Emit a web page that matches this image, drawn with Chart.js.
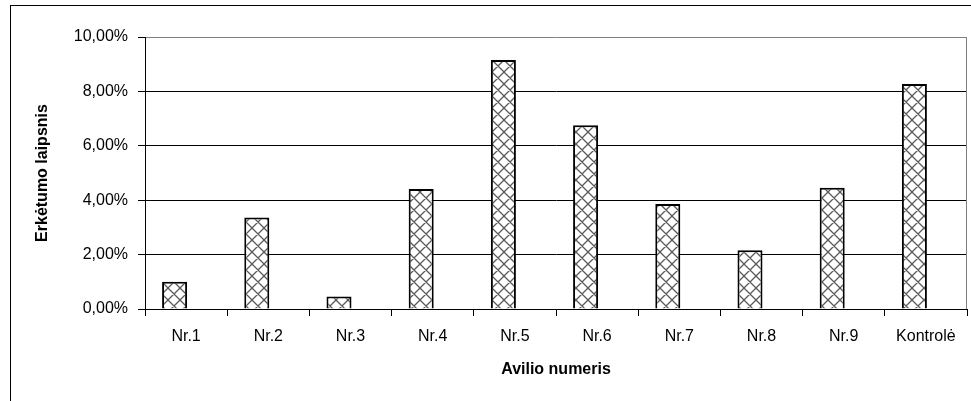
<!DOCTYPE html>
<html>
<head>
<meta charset="utf-8">
<script src="https://cdn.jsdelivr.net/npm/chart.js@4/dist/chart.umd.min.js"></script>
<style>
  html, body { margin: 0; padding: 0; background: #ffffff; }
  #wrap { width: 971px; height: 401px; position: relative; }
</style>
</head>
<body>
<div id="wrap"><canvas id="c" width="971" height="401"></canvas></div>
<script>
const categories = ['Nr.1', 'Nr.2', 'Nr.3', 'Nr.4', 'Nr.5', 'Nr.6', 'Nr.7', 'Nr.8', 'Nr.9', 'Kontrolė'];
const values = [1.00, 3.36, 0.46, 4.41, 9.15, 6.76, 3.86, 2.16, 4.46, 8.27];
// second (empty) series slot of the original chart: no values
const emptySeries = [null, null, null, null, null, null, null, null, null, null];
const yTicks = [0, 2, 4, 6, 8, 10];
const yTitle = 'Erkėtumo laipsnis';
const xTitle = 'Avilio numeris';

function makePattern() {
  const W = 12, H = 12;
  const p = document.createElement('canvas');
  p.width = W; p.height = H;
  const g = p.getContext('2d');
  g.fillStyle = '#ffffff';
  g.fillRect(0, 0, W, H);
  g.strokeStyle = '#5a5a5a';
  g.lineWidth = 1.3;
  g.beginPath();
  for (const dx of [-W, 0, W]) {
    g.moveTo(dx, 0); g.lineTo(dx + W, H);
    g.moveTo(dx + W, 0); g.lineTo(dx, H);
  }
  g.stroke();
  return g.createPattern(p, 'repeat');
}

const frame = {
  id: 'frame',
  beforeDraw(chart) {
    const ctx = chart.ctx;
    ctx.save();
    ctx.fillStyle = '#ffffff';
    ctx.fillRect(0, 0, chart.width, chart.height);
    ctx.strokeStyle = '#000000';
    ctx.lineWidth = 1;
    ctx.strokeRect(10.5, 5.5, 1200, 1200);
    ctx.restore();
  },
  afterDatasetsDraw(chart) {
    const a = chart.chartArea;
    const ctx = chart.ctx;
    ctx.save();
    ctx.strokeStyle = '#808080';
    ctx.lineWidth = 1;
    ctx.beginPath();
    ctx.moveTo(Math.round(a.right) - 0.5, Math.round(a.top) + 0.5);
    ctx.lineTo(Math.round(a.right) - 0.5, Math.round(a.bottom));
    ctx.stroke();
    ctx.restore();
  }
};

const tickFont = { family: '"Liberation Sans", Arial, sans-serif', size: 16 };
const titleFont = { family: '"Liberation Sans", Arial, sans-serif', size: 16, weight: 'bold' };

new Chart(document.getElementById('c'), {
  type: 'bar',
  data: {
    labels: categories,
    datasets: [{
      data: values,
      backgroundColor: makePattern(),
      borderColor: '#000000',
      borderWidth: 2,
      barPercentage: 1.087,
      categoryPercentage: 0.56
    }, {
      data: emptySeries,
      backgroundColor: '#ffffff',
      borderWidth: 0,
      barPercentage: 1.087,
      categoryPercentage: 0.56
    }]
  },
  plugins: [frame],
  options: {
    responsive: false,
    animation: false,
    devicePixelRatio: 1,
    layout: { padding: { left: 10, top: 37, right: 4, bottom: 0 } },
    plugins: { legend: { display: false }, tooltip: { enabled: false } },
    scales: {
      x: {
        offset: true,
        afterFit(s) { s.height = 92; },
        grid: {
          display: true,
          offset: true,
          drawOnChartArea: false,
          drawTicks: true,
          tickLength: 7,
          tickColor: '#000000',
          tickWidth: 1
        },
        border: { display: true, color: '#000000', width: 1 },
        ticks: { color: '#000000', font: tickFont, padding: 11, maxRotation: 0, autoSkip: false },
        title: { display: true, text: xTitle, color: '#000000', font: titleFont, padding: { top: 0, bottom: 22 } }
      },
      y: {
        min: 0,
        max: 10,
        afterFit(s) { s.width = 135; },
        afterBuildTicks(s) { s.ticks = yTicks.map(v => ({ value: v })); },
        grid: {
          color: (c) => (c.tick && c.tick.value === 10 ? '#808080' : '#000000'),
          lineWidth: 1,
          drawTicks: true,
          tickLength: 7,
          tickColor: '#000000'
        },
        border: { display: true, color: '#000000', width: 1 },
        ticks: {
          color: '#000000',
          font: tickFont,
          padding: 10,
          callback: (v) => Number(v).toFixed(2).replace('.', ',') + '%'
        },
        title: { display: true, text: yTitle, color: '#000000', font: titleFont, padding: { top: 23, bottom: 0 } }
      }
    }
  }
});
</script>
</body>
</html>
